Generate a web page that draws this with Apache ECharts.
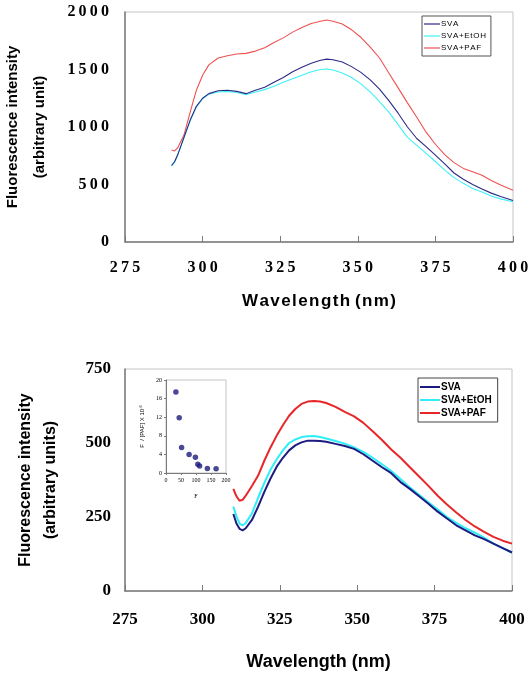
<!DOCTYPE html>
<html>
<head>
<meta charset="utf-8">
<script src="https://cdn.jsdelivr.net/npm/echarts@6/dist/echarts.min.js"></script>
<style>
  html, body { margin: 0; padding: 0; background: #fff; }
  #chart { width: 532px; height: 692px; }
</style>
</head>
<body>
<div id="chart"></div>
<script>
// top panel
var topWl = [290, 291, 292, 294, 296, 298, 300, 302, 305, 308, 311, 314, 317, 320, 323, 326, 329, 332, 335, 338, 340, 342, 345, 348, 351, 354, 357, 360, 363, 366, 369, 372, 375, 378, 381, 384, 387, 390, 393, 396, 400];
var topSva = [665, 700, 760, 910, 1060, 1180, 1250, 1290, 1315, 1320, 1310, 1290, 1320, 1345, 1390, 1430, 1480, 1520, 1555, 1580, 1590, 1585, 1565, 1525, 1475, 1410, 1330, 1230, 1120, 1000, 900, 830, 755, 680, 600, 545, 500, 460, 425, 395, 360];
var topEtoh = [660, 695, 755, 905, 1055, 1175, 1245, 1285, 1305, 1310, 1300, 1280, 1305, 1325, 1355, 1390, 1420, 1450, 1480, 1500, 1505, 1495, 1470, 1430, 1375, 1305, 1220, 1130, 1020, 910, 840, 770, 700, 625, 560, 510, 465, 435, 400, 375, 350];
var topPaf = [800, 792, 820, 930, 1130, 1320, 1450, 1540, 1600, 1620, 1635, 1640, 1660, 1690, 1735, 1775, 1825, 1865, 1900, 1920, 1930, 1920, 1895, 1845, 1780, 1695, 1600, 1470, 1340, 1210, 1085, 955, 850, 760, 690, 640, 610, 580, 535, 495, 450];

// bottom panel
var botWl = [310, 311, 312, 313, 314, 316, 318, 320, 322, 324, 326, 328, 330, 332, 334, 336, 338, 340, 343, 346, 349, 352, 355, 358, 361, 364, 367, 370, 373, 376, 379, 382, 385, 388, 391, 394, 397, 400];
var botSva = [260, 228, 210, 205, 212, 240, 285, 335, 380, 420, 450, 475, 492, 502, 508, 508, 507, 504, 497, 490, 480, 462, 440, 418, 398, 368, 345, 320, 295, 268, 245, 222, 205, 188, 175, 160, 145, 130];
var botEtoh = [285, 252, 228, 222, 230, 262, 315, 365, 410, 445, 475, 500, 512, 520, 523, 524, 520, 515, 507, 498, 485, 470, 450, 428, 405, 378, 350, 325, 300, 275, 250, 230, 212, 197, 180, 160, 145, 130];
var botPaf = [345, 320, 305, 308, 322, 355, 390, 440, 485, 525, 560, 592, 615, 632, 640, 642, 640, 635, 622, 605, 590, 568, 540, 510, 478, 450, 418, 387, 355, 322, 292, 265, 240, 218, 200, 183, 170, 160];

// inset: F vs F/[PAF]
var insetF = [33, 44, 52, 77, 98, 106, 112, 138, 167];
var insetRatio = [17.4, 11.9, 5.5, 4.0, 3.4, 1.9, 1.5, 0.95, 0.9];

var seriesNames = ['SVA', 'SVA+EtOH', 'SVA+PAF'];
var topColors = ['#2b2b86', '#3ff0f5', '#ee5050'];
var botColors = ['#1c1c80', '#30eef8', '#e8262a'];

function zip(xs, ys) {
  return xs.map(function (x, i) { return [x, ys[i]]; });
}
// letter-spaced text, like the upper panel of the original
function spaced(s, sep) {
  return String(s).split('').join(sep || '\u200a');
}

var serif = '"Times New Roman", "Liberation Serif", serif';
var sans = 'Arial, "Liberation Sans", sans-serif';

var myChart = echarts.init(document.getElementById('chart'));

function mainX(grid, labelSize, margin, name, nameSize, nameGap, spacedLabels) {
  return {
    type: 'value', gridIndex: grid, min: 275, max: 400, interval: 25,
    axisLine: { show: true, onZero: false, lineStyle: { color: '#7a7a7a', width: 1.5 } },
    axisTick: { show: true, inside: true, length: 6, lineStyle: { color: '#7a7a7a' } },
    splitLine: { show: false },
    axisLabel: {
      margin: margin, color: '#000', fontFamily: serif, fontWeight: 'bold', fontSize: labelSize,
      formatter: function (v) { return spacedLabels ? spaced(v, '\u2009') : String(v); }
    },
    name: name, nameLocation: 'middle', nameGap: nameGap,
    nameTextStyle: { fontFamily: sans, fontWeight: 'bold', fontSize: nameSize, color: '#000' }
  };
}

function mainY(grid, max, interval, labelSize, margin, name, nameSize, nameGap, lineH, spacedLabels) {
  return {
    type: 'value', gridIndex: grid, min: 0, max: max, interval: interval,
    axisLine: { show: true, lineStyle: { color: '#7a7a7a', width: 1.5 } },
    axisTick: { show: false },
    splitLine: { show: false },
    axisLabel: {
      margin: margin, color: '#000', fontFamily: serif, fontWeight: 'bold', fontSize: labelSize,
      formatter: function (v) { return spacedLabels ? spaced(v, '\u2009') : String(v); }
    },
    name: name, nameLocation: 'middle', nameGap: nameGap, nameRotate: 90,
    nameTextStyle: { fontFamily: sans, fontWeight: 'bold', fontSize: nameSize, color: '#000', lineHeight: lineH }
  };
}

var series = [];
[topSva, topEtoh, topPaf].forEach(function (vals, i) {
  series.push({
    name: seriesNames[i], type: 'line', xAxisIndex: 0, yAxisIndex: 0,
    data: zip(topWl, vals), showSymbol: false, symbol: 'none',
    lineStyle: { width: 1.1, color: topColors[i] }, itemStyle: { color: topColors[i] },
    z: 3 - i
  });
});
[botSva, botEtoh, botPaf].forEach(function (vals, i) {
  series.push({
    name: seriesNames[i], type: 'line', xAxisIndex: 1, yAxisIndex: 1,
    data: zip(botWl, vals), showSymbol: false, symbol: 'none',
    lineStyle: { width: 2, color: botColors[i] }, itemStyle: { color: botColors[i] },
    z: 3 - i
  });
});
series.push({
  name: 'inset', type: 'scatter', xAxisIndex: 2, yAxisIndex: 2,
  data: zip(insetF, insetRatio), symbolSize: 5.5,
  itemStyle: { color: '#1a1a7a' }
});

var gridBase = { show: true, borderColor: '#c4c4c4', borderWidth: 1, containLabel: false, outerBoundsMode: 'none' };

var option = {
  backgroundColor: '#fff',
  animation: false,
  grid: [
    Object.assign({ left: 125, top: 12, width: 388, height: 230 }, gridBase),
    Object.assign({ left: 125, top: 369, width: 387, height: 222 }, gridBase),
    Object.assign({ left: 166, top: 380, width: 60, height: 93 }, gridBase)
  ],
  legend: [
    {
      orient: 'vertical', left: 422, top: 16, padding: [4, 5, 4, 2], itemGap: 4,
      itemWidth: 16, itemHeight: 1.2, icon: 'rect',
      borderColor: '#555', borderWidth: 1, backgroundColor: '#fff',
      textStyle: { fontFamily: sans, fontSize: 8, color: '#000', padding: [0, 0, 0, -4] },
      formatter: function (n) { return spaced(n); },
      data: seriesNames.map(function (n, i) { return { name: n, itemStyle: { color: topColors[i] } }; })
    },
    {
      orient: 'vertical', left: 418, top: 378, padding: [4, 6, 4, 2], itemGap: 3,
      itemWidth: 20, itemHeight: 2, icon: 'rect',
      borderColor: '#444', borderWidth: 1, backgroundColor: '#fff',
      textStyle: { fontFamily: sans, fontSize: 10, fontWeight: 'bold', color: '#000', padding: [0, 0, 0, -4] },
      data: seriesNames.map(function (n, i) { return { name: n, itemStyle: { color: botColors[i] } }; })
    }
  ],
  xAxis: [
    mainX(0, 16, 18, spaced('Wavelength') + ' ' + spaced('(nm)'), 17, 51, true),
    mainX(1, 17, 20, 'Wavelength (nm)', 18, 62, false),
    {
      type: 'value', gridIndex: 2, min: 0, max: 200, interval: 50,
      axisLine: { show: true, onZero: false, lineStyle: { color: '#7a7a7a' } },
      axisTick: { show: true, length: 2, lineStyle: { color: '#7a7a7a' } },
      splitLine: { show: false },
      axisLabel: { margin: 4, fontFamily: serif, fontSize: 6, color: '#000' },
      name: 'F', nameLocation: 'middle', nameGap: 20,
      nameTextStyle: { fontFamily: serif, fontSize: 6, color: '#000' }
    }
  ],
  yAxis: [
    mainY(0, 2000, 500, 16, 16, 'Fluorescence intensity\n(arbitrary unit)', 15, 72, 27, true),
    mainY(1, 750, 250, 17, 14, 'Fluorescence intensity\n(arbitrary units)', 16, 62, 25, false),
    {
      type: 'value', gridIndex: 2, min: 0, max: 20, interval: 4,
      axisLine: { show: true, lineStyle: { color: '#7a7a7a' } },
      axisTick: { show: true, length: 2, lineStyle: { color: '#7a7a7a' } },
      splitLine: { show: false },
      axisLabel: { margin: 4, fontFamily: serif, fontSize: 6, color: '#000' },
      name: 'F  / [PAF] X 10{sup|-6}', nameLocation: 'middle', nameGap: 20, nameRotate: 90,
      nameTextStyle: {
        fontFamily: sans, fontSize: 6, color: '#000',
        rich: { sup: { fontFamily: sans, fontSize: 4, color: '#000', verticalAlign: 'top', padding: [0, 0, 3, 0] } }
      }
    }
  ],
  series: series
};

myChart.setOption(option);
</script>
</body>
</html>
